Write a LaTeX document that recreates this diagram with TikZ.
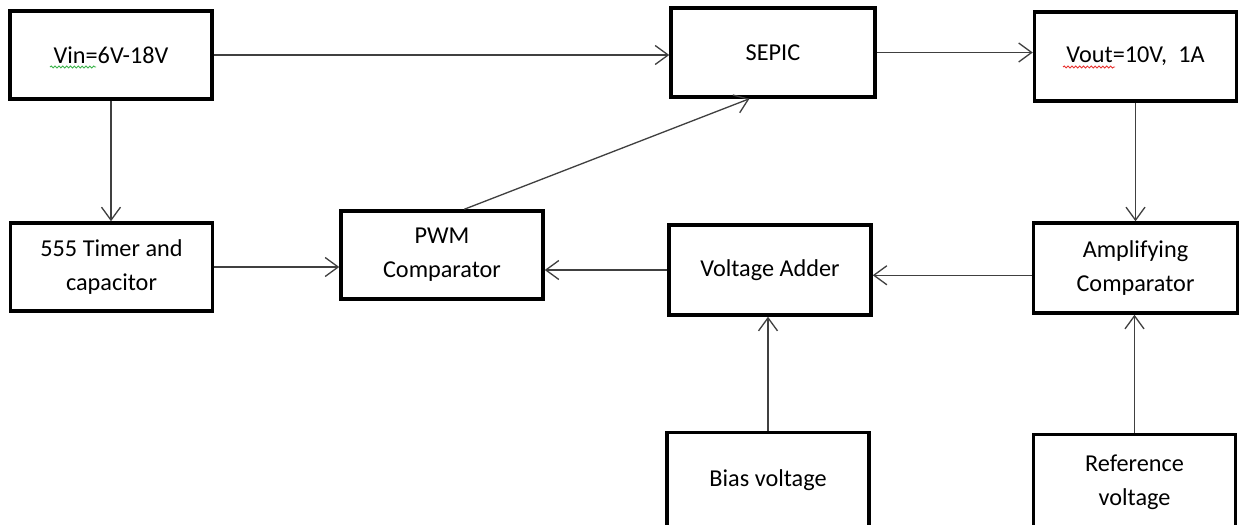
\documentclass[tikz,border=0pt]{standalone}
\usepackage{fontspec}
\setmainfont{Carlito}
\usetikzlibrary{arrows.meta, positioning, calc, decorations.pathmorphing}
\definecolor{lineaGris}{HTML}{404040}
\definecolor{spellVerde}{HTML}{3CB44B}
\definecolor{spellRojo}{HTML}{E8312F}

\begin{document}
\begin{tikzpicture}[x=0.02cm, y=-0.02cm, >={Straight Barb[length=2.6mm,width=3.8mm]},
        font=\fontsize{13.8}{19.5}\selectfont,
        blk/.style={draw=black, line width=2pt, fill=white, minimum width=4.04cm,
            minimum height=1.76cm, align=center, inner sep=2pt},
        tr/.style={->, lineaGris, line width=0.75pt},
        squig/.style={decorate, decoration={snake, amplitude=0.55pt, segment length=2.2pt}, line width=0.5pt}]
        \useasboundingbox (0,0) rectangle (1244,524);
        % top row
        \node[blk] (vin) at (111,55) {Vin=6V-18V};
        \node[blk, minimum width=4.08cm, minimum height=1.78cm] (sepic) at (773,52.5) {SEPIC};
        \node[blk, minimum height=1.78cm] (vout) at (1135.5,56.5) {Vout=10V,\ \ 1A};
        % middle row
        \node[blk] (timer) at (111.5,267) {555 Timer and\\capacitor};
        \node[blk] (pwm) at (442,255) {PWM\\Comparator};
        \node[blk, minimum height=1.8cm] (adder) at (770,270) {Voltage Adder};
        \node[blk, minimum width=4.08cm, minimum height=1.8cm] (amp) at (1135.5,268) {Amplifying\\Comparator};
        % bottom row
        \node[blk, minimum height=1.9cm] (bias) at (768,480) {Bias voltage};
        \node[blk, minimum height=1.9cm] (ref) at (1134.5,482) {Reference\\voltage};
        % spelling marks
        \draw[squig, spellVerde] ($(vin.center)+(-61,12)$) -- ($(vin.center)+(-15,12)$);
        \draw[squig, spellRojo] ($(vout.center)+(-72.5,10.5)$) -- ($(vout.center)+(-20.5,10.5)$);
        % connections
        \draw[tr] (vin.east) -- (vin.east -| sepic.west);
        \draw[tr] (sepic.east) -- (sepic.east -| vout.west);
        \draw[tr] (vin.south) -- (vin.south |- timer.north);
        \draw[tr] (vout.south) -- (vout.south |- amp.north);
        \draw[tr] (timer.east) -- (timer.east -| pwm.west);
        \draw[tr] (pwm.64) -- (sepic.243);
        \draw[tr] (adder.west) -- (adder.west -| pwm.east);
        \draw[tr] (amp.184) -- (amp.184 -| adder.east);
        \draw[tr] (bias.north) -- (bias.north |- adder.south);
        \draw[tr] (ref.north) -- (ref.north |- amp.south);
    \end{tikzpicture}
\end{document}
